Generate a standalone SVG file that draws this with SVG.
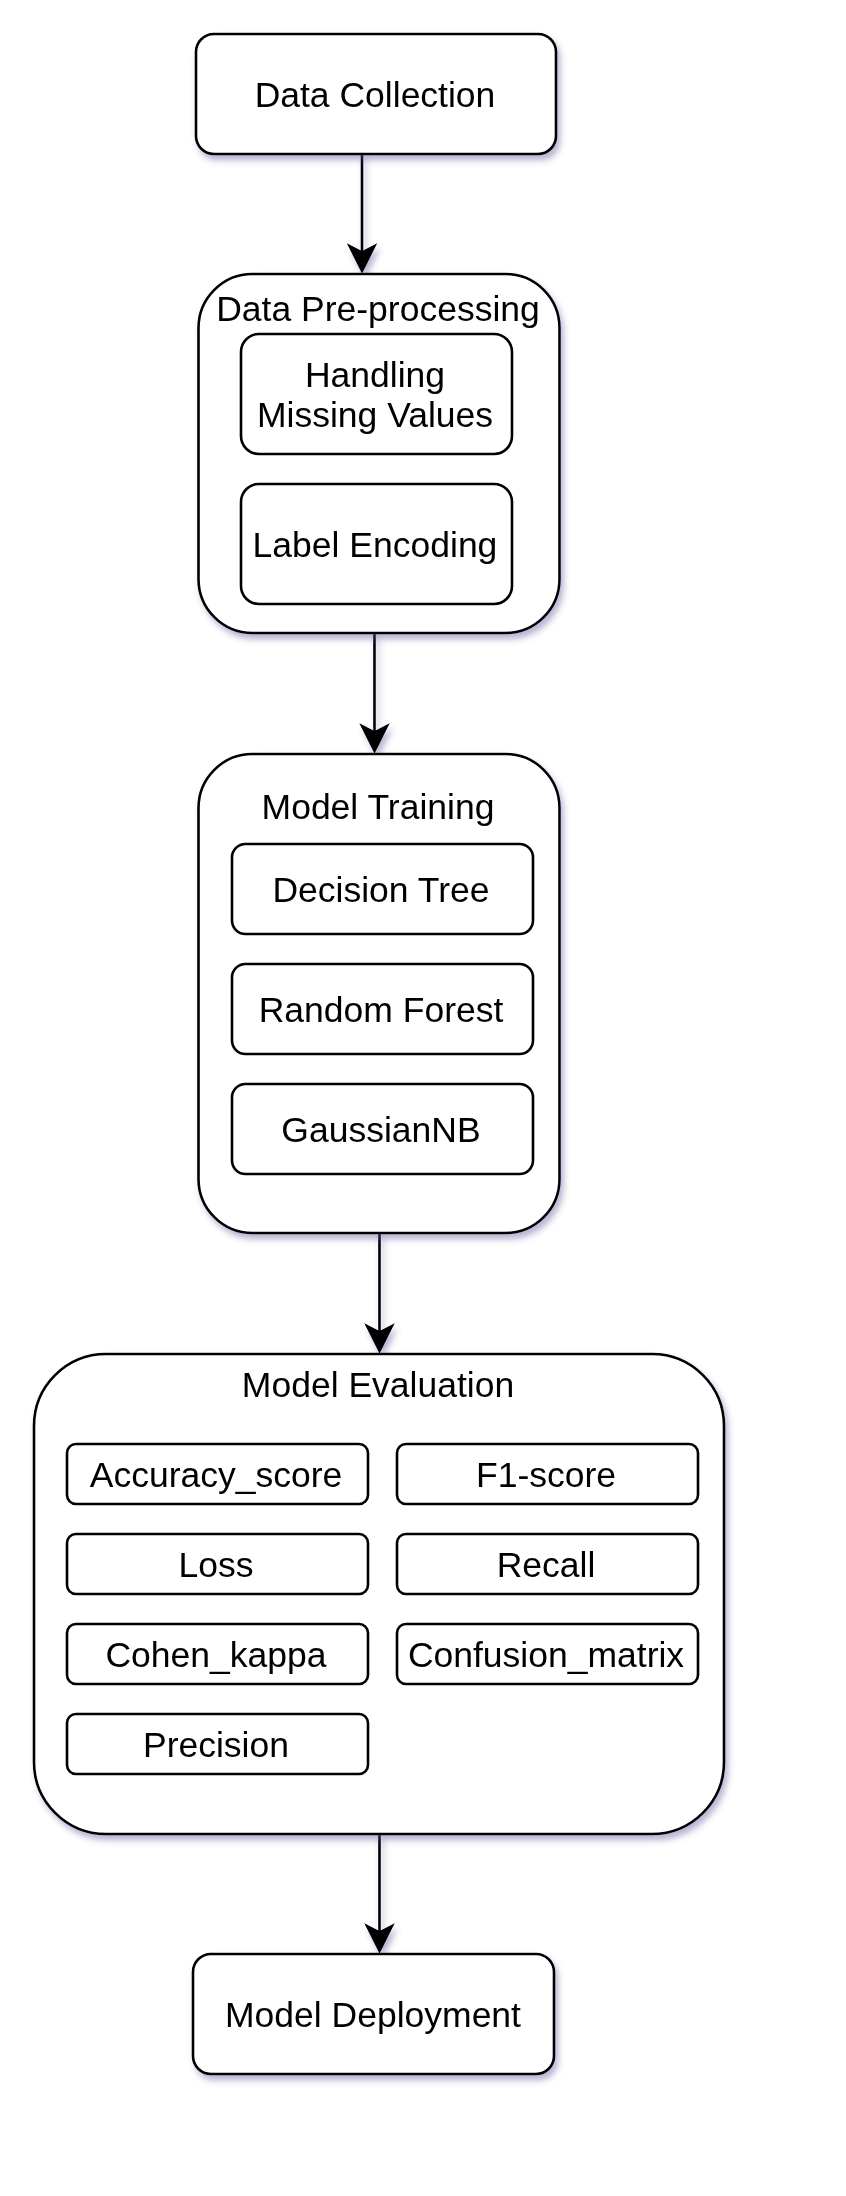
<svg xmlns="http://www.w3.org/2000/svg" width="846" height="2196" viewBox="0 0 846 2196">
<defs>
<filter id="shadow" x="-10%" y="-10%" width="130%" height="130%">
<feDropShadow dx="3" dy="5" stdDeviation="3" flood-color="#5a5a9a" flood-opacity="0.45"/>
</filter>
<path id="head" d="M0,0 L-13.5,-27 L0,-20 L13.5,-27 Z"/>
<style>
.box{fill:#fff;stroke:#000;stroke-width:2.6}
.outer{filter:url(#shadow)}
.t{font-family:"Liberation Sans",Arial,Helvetica,sans-serif;font-size:35.5px;fill:#000;text-anchor:middle}
.edge{fill:none;stroke:#000;stroke-width:2.6}
.ah{fill:#000;stroke:#000;stroke-width:1.5;stroke-linejoin:miter}
</style>
</defs>
<rect width="846" height="2196" fill="#fff"/>
<g id="connectors" filter="url(#shadow)">
<path class="edge" d="M362,154 L362,256"/>
<use class="ah" href="#head" x="362" y="272"/>
<path class="edge" d="M374.5,633 L374.5,736"/>
<use class="ah" href="#head" x="374.5" y="752"/>
<path class="edge" d="M379.5,1233 L379.5,1336"/>
<use class="ah" href="#head" x="379.5" y="1352"/>
<path class="edge" d="M379.5,1834 L379.5,1936"/>
<use class="ah" href="#head" x="379.5" y="1952"/>
</g>
<g id="data-collection">
<rect class="box outer" x="196" y="34" width="360" height="120" rx="18"/>
<text class="t" x="375" y="107">Data Collection</text>
</g>
<g id="data-preprocessing">
<rect class="box outer" x="198.5" y="274" width="361" height="359" rx="54"/>
<text class="t" x="378" y="321">Data Pre-processing</text>
</g>
<g id="handling-missing-values">
<rect class="box" x="241" y="334" width="271" height="120" rx="18"/>
<text class="t" x="375" y="387">Handling</text>
<text class="t" x="375" y="427">Missing Values</text>
</g>
<g id="label-encoding">
<rect class="box" x="241" y="484" width="271" height="120" rx="18"/>
<text class="t" x="375" y="557">Label Encoding</text>
</g>
<g id="model-training">
<rect class="box outer" x="198.5" y="754" width="361" height="479" rx="54"/>
<text class="t" x="378" y="819">Model Training</text>
</g>
<g id="decision-tree">
<rect class="box" x="232" y="844" width="301" height="90" rx="13.5"/>
<text class="t" x="381" y="902">Decision Tree</text>
</g>
<g id="random-forest">
<rect class="box" x="232" y="964" width="301" height="90" rx="13.5"/>
<text class="t" x="381" y="1022">Random Forest</text>
</g>
<g id="gaussiannb">
<rect class="box" x="232" y="1084" width="301" height="90" rx="13.5"/>
<text class="t" x="381" y="1142">GaussianNB</text>
</g>
<g id="model-evaluation">
<rect class="box outer" x="34" y="1354" width="690" height="480" rx="72"/>
<text class="t" x="378" y="1397">Model Evaluation</text>
</g>
<g id="accuracy-score">
<rect class="box" x="67" y="1444" width="301" height="60" rx="9"/>
<text class="t" x="216" y="1487">Accuracy_score</text>
</g>
<g id="loss">
<rect class="box" x="67" y="1534" width="301" height="60" rx="9"/>
<text class="t" x="216" y="1577">Loss</text>
</g>
<g id="cohen-kappa">
<rect class="box" x="67" y="1624" width="301" height="60" rx="9"/>
<text class="t" x="216" y="1667">Cohen_kappa</text>
</g>
<g id="precision">
<rect class="box" x="67" y="1714" width="301" height="60" rx="9"/>
<text class="t" x="216" y="1757">Precision</text>
</g>
<g id="f1-score">
<rect class="box" x="397" y="1444" width="301" height="60" rx="9"/>
<text class="t" x="546" y="1487">F1-score</text>
</g>
<g id="recall">
<rect class="box" x="397" y="1534" width="301" height="60" rx="9"/>
<text class="t" x="546" y="1577">Recall</text>
</g>
<g id="confusion-matrix">
<rect class="box" x="397" y="1624" width="301" height="60" rx="9"/>
<text class="t" x="546" y="1667">Confusion_matrix</text>
</g>
<g id="model-deployment">
<rect class="box outer" x="193" y="1954" width="361" height="120" rx="18"/>
<text class="t" x="373" y="2027">Model Deployment</text>
</g>
</svg>
